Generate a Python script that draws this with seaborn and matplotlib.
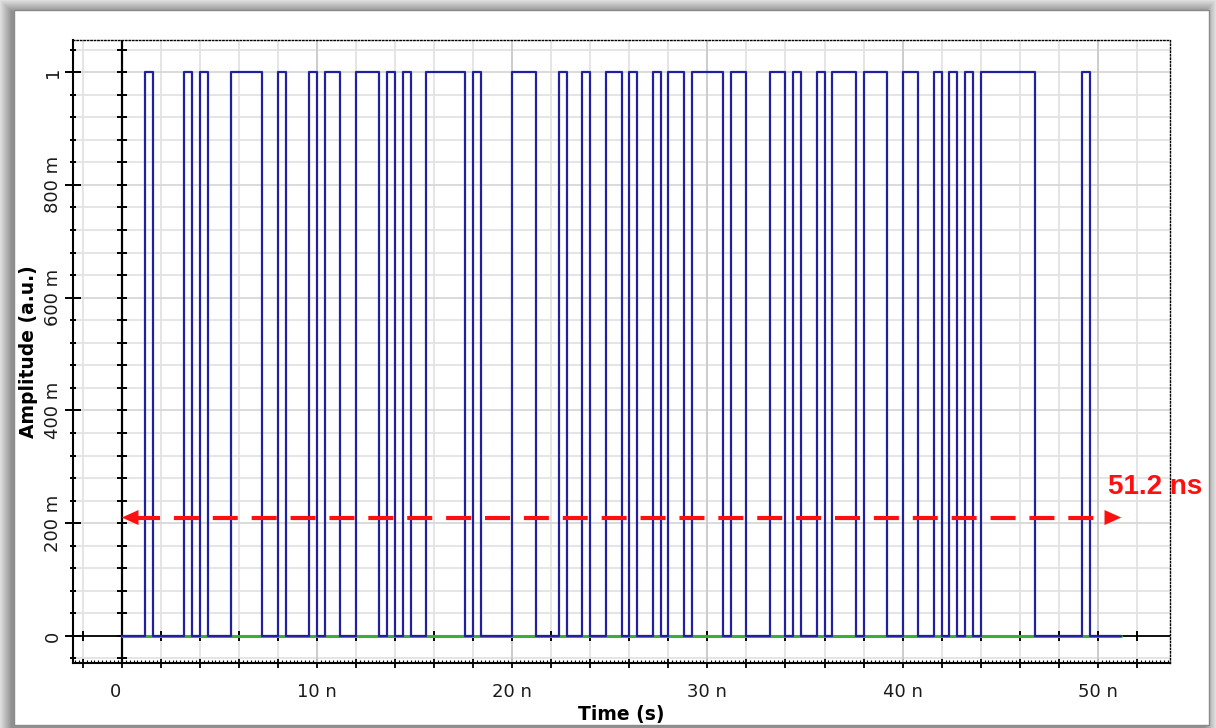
import matplotlib
matplotlib.use("Agg")
import matplotlib.pyplot as plt
from matplotlib.ticker import MultipleLocator, FuncFormatter
from matplotlib.patches import Rectangle
import numpy as np
import pandas as pd
import seaborn as sns

# ---------------- data (ns, a.u.) ----------------
high_start = [1.2, 3.2, 4.0, 5.6, 8.0, 9.6, 10.4, 12.0, 13.6, 14.4, 15.6, 18.0,
              20.0, 22.4, 23.6, 24.8, 26.0, 27.2, 28.0, 29.2, 31.2, 33.2, 34.4,
              35.6, 36.4, 38.0, 40.0, 41.6, 42.4, 43.2, 44.0, 49.2]
high_end = [1.6, 3.6, 4.4, 7.2, 8.4, 10.0, 11.2, 13.2, 14.0, 14.8, 17.6, 18.4,
            21.2, 22.8, 24.0, 25.6, 26.4, 27.6, 28.8, 30.8, 32.0, 34.0, 34.8,
            36.0, 37.6, 39.2, 40.8, 42.0, 42.8, 43.6, 46.8, 49.6]
record_end = 51.2
span_level = 0.21
span_label = "51.2 ns"
x_label = "Time (s)"
y_label = "Amplitude (a.u.)"

# step series built from the edges
t = [0.0]
v = [0.0]
for s, e in zip(high_start, high_end):
    t += [s, e]
    v += [1.0, 0.0]
t.append(record_end)
v.append(0.0)
sig = pd.DataFrame({"time": t, "amp": v})
ref = pd.DataFrame({"time": [0.0, record_end], "amp": [0.0, 0.0]})

sns.set_theme(style="white")
plt.rcParams["font.family"] = ["DejaVu Sans"]
plt.rcParams["lines.scale_dashes"] = False

W, H = 1216, 728
fig = plt.figure(figsize=(W / 100, H / 100), dpi=100, facecolor="#dedede")
# shadowed frame: nested rectangles darkening towards the white panel
n_steps = 12
for k in range(n_steps):
    g = 0.87 - 0.30 * k / (n_steps - 1)
    fig.add_artist(Rectangle((k / W, 0), (W - 2 * k) / W, (H - k) / H,
                             transform=fig.transFigure, facecolor=(g, g, g),
                             edgecolor="none", zorder=-20 + k * 0.01))
panel = Rectangle((14 / W, 3 / H), (1209 - 14) / W, (725 - 10) / H,
                  transform=fig.transFigure, facecolor="white",
                  edgecolor="#8a8a8a", lw=1, zorder=-10)
fig.add_artist(panel)

ax = fig.add_axes([73 / W, (H - 663) / H, (1170 - 73) / W, (663 - 40) / H])
ax.set_zorder(5)
ax.set_facecolor("white")
xlim = (-2.5, 53.7)
ylim = (-0.048, 1.057)

sns.lineplot(data=ref, x="time", y="amp", color="#3aae3a", lw=2.2, ax=ax,
             zorder=3, estimator=None, sort=False)
sns.lineplot(data=sig, x="time", y="amp", color="#2020a0", lw=1.6,
             drawstyle="steps-post", estimator=None, sort=False, ax=ax, zorder=4)

ax.set_xlim(*xlim)
ax.set_ylim(*ylim)

# ticks
ax.xaxis.set_major_locator(MultipleLocator(2))
ax.xaxis.set_minor_locator(MultipleLocator(0.2))
ax.yaxis.set_major_locator(MultipleLocator(0.2))
ax.yaxis.set_minor_locator(MultipleLocator(0.04))


def xfmt(val, pos):
    if abs(val) < 1e-9:
        return "0  "
    if abs(val / 10 - round(val / 10)) < 1e-6:
        return f"{int(round(val))} n"
    return ""


def yfmt(val, pos):
    if abs(val) < 1e-9:
        return "0"
    if abs(val - 1) < 1e-9:
        return "1"
    return f"{int(round(val * 1000))} m"


ax.xaxis.set_major_formatter(FuncFormatter(xfmt))
ax.yaxis.set_major_formatter(FuncFormatter(yfmt))

ax.tick_params(axis="y", which="major", direction="inout", length=11.5, width=1.4,
               color="black", left=True, right=False, labelsize=13, pad=2,
               labelrotation=90, labelcolor="#1a1a1a")
ax.tick_params(axis="y", which="minor", direction="inout", length=5, width=1.4,
               color="black", left=True, right=False)
ax.tick_params(axis="x", which="major", direction="inout", length=6.5, width=1.3,
               color="black", bottom=True, top=False, labelsize=13, pad=11,
               labelcolor="#1a1a1a")
ax.tick_params(axis="x", which="minor", direction="in", length=2.5, width=0.8,
               color="black", bottom=True, top=False)
plt.setp(ax.get_yticklabels(), va="center")

# spines
for s in ["top", "right"]:
    ax.spines[s].set_linestyle((0, (1, 1.5)))
    ax.spines[s].set_color("black")
    ax.spines[s].set_linewidth(1.0)
for s in ["left", "bottom"]:
    ax.spines[s].set_color("black")
    ax.spines[s].set_linewidth(1.5)

# grid
ax.set_axisbelow(True)
ax.grid(which="major", axis="x", color="#e3e3e3", lw=1.3)
ax.grid(which="major", axis="y", color="#d8d8d8", lw=1.3)
ax.grid(which="minor", axis="y", color="#e3e3e3", lw=1.3)
for xv in MultipleLocator(10).tick_values(*xlim):
    if xlim[0] <= xv <= xlim[1]:
        ax.axvline(xv, color="#cbcbcb", lw=1.3, zorder=0.6)

# zero lines with their own tick marks
ax.axhline(0, color="black", lw=1.3, zorder=1.5)
ax.axvline(0, color="black", lw=1.6, zorder=1.5)
xt = [x for x in ax.xaxis.get_majorticklocs() if xlim[0] <= x <= xlim[1]]
yt = sorted(list(ax.yaxis.get_majorticklocs()) + list(ax.yaxis.get_minorticklocs()))
yt = [y for y in yt if ylim[0] <= y <= ylim[1]]
ax.plot(xt, [0] * len(xt), ls="none", marker="|", ms=7, mew=1.4, color="black", zorder=1.6)
ax.plot([0] * len(yt), yt, ls="none", marker="_", ms=7, mew=1.4, color="black", zorder=1.6)

# span arrow
ax.plot([0.7, record_end - 0.7], [span_level, span_level], color="#ff1010", lw=3,
        dashes=(18, 10), zorder=5, solid_capstyle="butt", dash_capstyle="butt")
for tip, tail in [(0.0, 1.0), (record_end, record_end - 1.0)]:
    ax.annotate("", xy=(tip, span_level), xytext=(tail, span_level),
                arrowprops=dict(arrowstyle="-|>,head_length=1.0,head_width=0.45",
                                color="#ff1010", lw=0.01, shrinkA=0, shrinkB=0),
                zorder=6)
ax.text(50.5, 0.264, span_label, color="#ff1010", fontsize=20, fontweight="bold",
        family=["Liberation Sans", "DejaVu Sans"], ha="left", va="center",
        zorder=7, clip_on=False)

# axis labels
ax.set_xlabel(x_label, fontsize=13.5, fontweight="bold", color="black")
ax.set_ylabel(y_label, fontsize=13.5, fontweight="bold", color="black")
ax.xaxis.set_label_coords(0.5, -0.083)
ax.xaxis.label.set_va("center")
ax.yaxis.set_label_coords(-0.041, 0.5)
ax.yaxis.label.set_va("center")

fig.savefig("out.png", dpi=100, facecolor=fig.get_facecolor())
